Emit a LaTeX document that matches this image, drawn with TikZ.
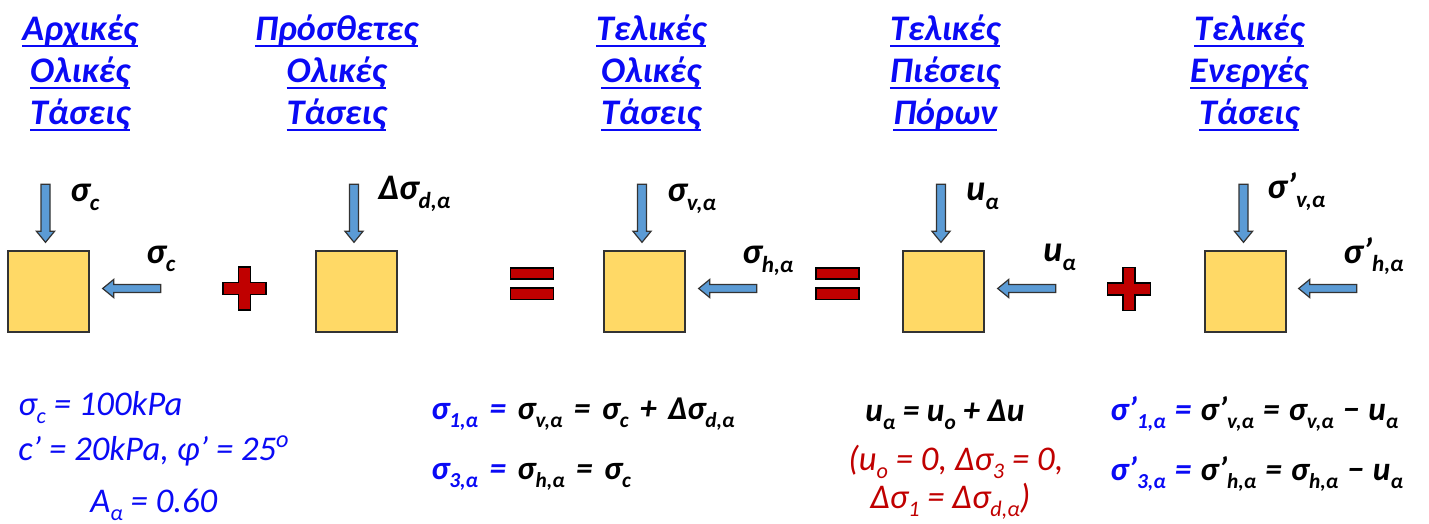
\documentclass[tikz,border=0pt]{standalone}
\usepackage{fontspec}
\setmainfont{Carlito}
\usetikzlibrary{calc}

\definecolor{soilyellow}{RGB}{255,217,102}
\definecolor{loadblue}{RGB}{91,155,213}
\definecolor{signred}{RGB}{192,0,0}
\definecolor{ttlblue}{RGB}{10,10,245}

% lowered, smaller index
\newcommand\lo[1]{\raisebox{-0.24em}{\scalebox{0.64}{#1}}}
% relation with wider spacing
\newcommand\rel[1]{\hspace{0.34em}#1\hspace{0.34em}}
\newcommand\relx[1]{\hspace{0.27em}#1\hspace{0.27em}}
% underlined title word
\newcommand\ulw[1]{\setbox0\hbox{#1}\rlap{\rule[-4.6pt]{\wd0}{1.9pt}}\box0}
\newcommand\ttltext[3]{\ulw{#1}\\\ulw{#2}\\\ulw{#3}}
% block arrows (tip given)
\newcommand\loaddown[1]{\draw[blk] #1 -- ++(-9,-11) -- ++(4.5,0) -- ++(0,-47) -- ++(9,0) -- ++(0,47) -- ++(4.5,0) -- cycle;}
\newcommand\loadleft[1]{\draw[blk] #1 -- ++(11,-9) -- ++(0,5) -- ++(47,0) -- ++(0,8) -- ++(-47,0) -- ++(0,5) -- cycle;}
% red signs (centre given)
\newcommand\redplus[1]{\draw[sgn] #1 ++(-6,-21.5) -- ++(12,0) -- ++(0,15.5) -- ++(15.5,0) -- ++(0,12) -- ++(-15.5,0) -- ++(0,15.5) -- ++(-12,0) -- ++(0,-15.5) -- ++(-15.5,0) -- ++(0,-12) -- ++(15.5,0) -- cycle;}
\newcommand\redeq[1]{\draw[sgn] #1 ++(-21.5,-16) rectangle ++(43,11); \draw[sgn] #1 ++(-21.5,4) rectangle ++(43,11.5);}

\tikzset{
  sq/.style={draw=black!80, fill=soilyellow, line width=1pt, minimum size=60.75pt, inner sep=0},
  blk/.style={draw=black!80, fill=loadblue, line width=0.9pt},
  sgn/.style={draw=black, fill=signred, line width=1pt},
  ttl/.style={text=ttlblue, font=\fontsize{27}{31.5}\selectfont\bfseries\itshape, align=center, inner sep=0, anchor=north},
  lbl/.style={font=\fontsize{27}{30}\selectfont\bfseries\itshape, anchor=base west, inner sep=0},
  eqn/.style={font=\fontsize{25}{28}\selectfont\bfseries\itshape, anchor=base west, inner sep=0},
  given/.style={text=ttlblue, font=\fontsize{26}{30}\selectfont\itshape, anchor=base west, inner sep=0},
  cond/.style={text=signred, font=\fontsize{26}{30}\selectfont\itshape, anchor=base west, inner sep=0}
}

\begin{document}
\begin{tikzpicture}[x=0.75pt, y=-0.75pt]
  \useasboundingbox (0,0) rectangle (1429,524);

  % titles
  \node[ttl] (tA) at (80,15) {\ttltext{Αρχικές}{Ολικές}{Τάσεις}};
  \node[ttl] (tB) at (336.5,15) {\ttltext{Πρόσθετες}{Ολικές}{Τάσεις}};
  \node[ttl] (tC) at (651,15) {\ttltext{Τελικές}{Ολικές}{Τάσεις}};
  \node[ttl] (tD) at (945,15) {\ttltext{Τελικές}{Πιέσεις}{Πόρων}};
  \node[ttl] (tE) at (1249,15) {\ttltext{Τελικές}{Ενεργές}{Τάσεις}};

  % soil elements
  \node[sq] (sqA) at (48.5,291.5) {};
  \node[sq] (sqB) at (356.5,291.5) {};
  \node[sq] (sqC) at (644.5,291.5) {};
  \node[sq] (sqD) at (943.5,291.5) {};
  \node[sq] (sqE) at (1245.5,291.5) {};

  % loads
  \loaddown{($(sqA.north)+(-3,-8)$)}
  \loadleft{($(sqA.east)+(13,-3)$)}
  \loaddown{($(sqB.north)+(-2.5,-8)$)}
  \loaddown{($(sqC.north)+(-2.5,-8)$)}
  \loadleft{($(sqC.east)+(13,-3)$)}
  \loaddown{($(sqD.north)+(-2.5,-8)$)}
  \loadleft{($(sqD.east)+(13,-3)$)}
  \loaddown{($(sqE.north)+(-2,-8)$)}
  \loadleft{($(sqE.east)+(12,-3)$)}

  \node[lbl] (vA) at (70,202) {σ\lo{c}};
  \node[lbl] (hA) at (146,263) {σ\lo{c}};
  \node[lbl] (vB) at (378,200) {Δσ\lo{d,α}};
  \node[lbl] (vC) at (667,202) {σ\lo{v,α}};
  \node[lbl] (hC) at (742,264) {σ\lo{h,α}};
  \node[lbl] (vD) at (966,201) {u\lo{α}};
  \node[lbl] (hD) at (1043,262) {u\lo{α}};
  \node[lbl] (vE) at (1267,199) {σ’\lo{v,α}};
  \node[lbl] (hE) at (1343,263) {σ’\lo{h,α}};

  % signs between elements
  \redplus{(244.5,288.5)}
  \redeq{(532,284)}
  \redeq{(837.5,284)}
  \redplus{(1129,289)}

  % given data
  \node[given] (g1) at (18,415) {σ\lo{c} = 100kPa};
  \node[given] (g2) at (18,460) {c' = 20kPa, φ’ = 25\textsuperscript{o}};
  \node[given] (g3) at (90,512) {A\lo{α} = 0.60};

  % relations
  \node[eqn] (e1) at (431,419) {{\color{ttlblue}σ\lo{1,α}\rel{=}}σ\lo{v,α}\rel{=}σ\lo{c}\rel{+}Δσ\lo{d,α}};
  \node[eqn] (e3) at (431,479) {{\color{ttlblue}σ\lo{3,α}\rel{=}}σ\lo{h,α}\rel{=}σ\lo{c}};
  \node[eqn] (eu) at (865,421) {u\lo{α} = u\lo{o} + Δu};
  \node[cond] (c1) at (848,470) {(u\lo{o} = 0, Δσ\lo{3} = 0,};
  \node[cond] (c2) at (870,508) {Δσ\lo{1} = Δσ\lo{d,α})};
  \node[eqn] (f1) at (1110,420) {{\color{ttlblue}σ’\lo{1,α}\relx{=}}σ’\lo{v,α}\relx{=}σ\lo{v,α}\relx{−}u\lo{α}};
  \node[eqn] (f3) at (1110,480) {{\color{ttlblue}σ’\lo{3,α}\relx{=}}σ’\lo{h,α}\relx{=}σ\lo{h,α}\relx{−}u\lo{α}};
\end{tikzpicture}
\end{document}
